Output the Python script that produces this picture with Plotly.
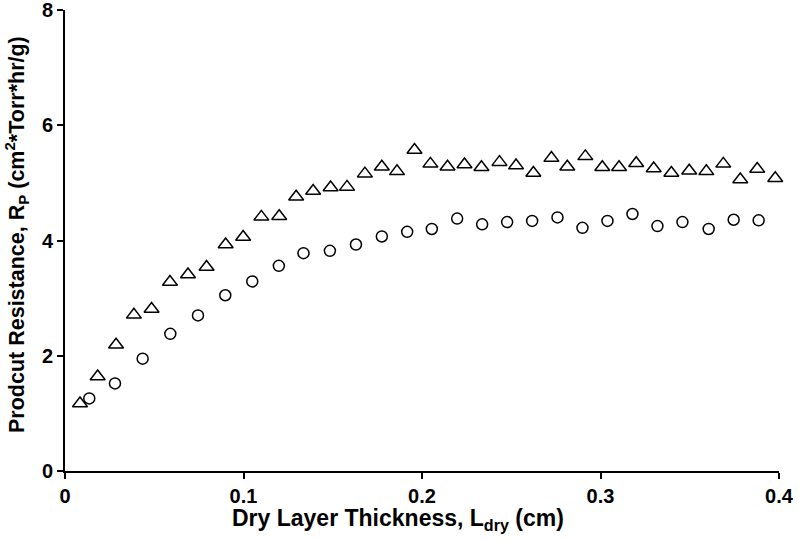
import plotly.graph_objects as go

tri_x = [0.0084, 0.0183, 0.0286, 0.0386, 0.0485, 0.0588, 0.0689, 0.0793, 0.090, 0.0998,
         0.110, 0.120, 0.1295, 0.139, 0.1488, 0.158, 0.168, 0.1775, 0.186, 0.1958,
         0.2047, 0.2143, 0.2238, 0.2333, 0.2434, 0.2527, 0.2624, 0.2725, 0.2814, 0.2915,
         0.301, 0.3104, 0.320, 0.3298, 0.3397, 0.3497, 0.3593, 0.3688, 0.3783, 0.3878, 0.3979]
tri_y = [1.17, 1.64, 2.19, 2.71, 2.81, 3.28, 3.41, 3.54, 3.93, 4.06,
         4.41, 4.42, 4.76, 4.86, 4.92, 4.93, 5.16, 5.28, 5.20, 5.57,
         5.33, 5.28, 5.32, 5.27, 5.36, 5.30, 5.17, 5.43, 5.28, 5.46,
         5.27, 5.27, 5.34, 5.25, 5.17, 5.21, 5.20, 5.33, 5.06, 5.24, 5.08]

circ_x = [0.0136, 0.028, 0.0435, 0.059, 0.0745, 0.0898, 0.1049, 0.1198, 0.1336, 0.1484,
          0.163, 0.1775, 0.1917, 0.2055, 0.2197, 0.2337, 0.2477, 0.2617, 0.2759, 0.2899,
          0.3039, 0.3179, 0.3319, 0.3459, 0.3606, 0.3746, 0.3886]
circ_y = [1.26, 1.52, 1.95, 2.38, 2.70, 3.05, 3.29, 3.56, 3.78, 3.82,
          3.93, 4.07, 4.15, 4.20, 4.38, 4.28, 4.32, 4.34, 4.40, 4.22,
          4.34, 4.46, 4.25, 4.32, 4.20, 4.36, 4.35]

x_ticks = [0, 0.1, 0.2, 0.3, 0.4]
x_tick_labels = ["0", "0.1", "0.2", "0.3", "0.4"]
y_ticks = [0, 2, 4, 6, 8]
y_tick_labels = ["0", "2", "4", "6", "8"]

x_title = "<b>Dry Layer Thickness, L<sub>dry</sub> (cm)</b>"
y_title = "<b>Prodcut Resistance, R<sub>P</sub> (cm<sup>2</sup>*Torr*hr/g)</b>"

fig = go.Figure()
fig.add_trace(go.Scatter(x=tri_x, y=tri_y, mode="markers",
                         marker=dict(symbol="triangle-up-open", size=13, color="black",
                                     line=dict(width=1.5, color="black")),
                         showlegend=False, cliponaxis=False))
fig.add_trace(go.Scatter(x=circ_x, y=circ_y, mode="markers",
                         marker=dict(symbol="circle-open", size=11, color="black",
                                     line=dict(width=1.5, color="black")),
                         showlegend=False, cliponaxis=False))

font_family = "Liberation Sans, Arial, sans-serif"
fig.update_layout(
    width=799, height=541,
    margin=dict(l=65, r=20, t=10, b=70, autoexpand=False),
    paper_bgcolor="white", plot_bgcolor="white",
    font=dict(family=font_family, color="black"),
    xaxis=dict(range=[0, 0.4], tickvals=x_ticks, ticktext=["<b>%s</b>" % t for t in x_tick_labels],
               showgrid=False, zeroline=False, showline=True, linecolor="black", linewidth=2,
               ticks="outside", ticklen=6, tickwidth=2, tickcolor="black",
               tickfont=dict(size=20, family=font_family), automargin=False,
               ticklabeloverflow="allow"),
    yaxis=dict(range=[0, 8], tickvals=y_ticks, ticktext=["<b>%s</b>" % t for t in y_tick_labels],
               showgrid=False, zeroline=False, showline=True, linecolor="black", linewidth=2,
               ticks="outside", ticklen=6, tickwidth=2, tickcolor="black",
               tickfont=dict(size=20, family=font_family), automargin=False,
               ticklabeloverflow="allow"),
    annotations=[
        dict(text=x_title, xref="paper", yref="paper", x=0.4657, y=-0.106,
             xanchor="center", yanchor="middle", showarrow=False,
             font=dict(size=23, family=font_family, color="black")),
        dict(text=y_title, xref="paper", yref="paper", x=-0.0672, y=0.512,
             xanchor="center", yanchor="middle", showarrow=False, textangle=-90,
             font=dict(size=21.5, family=font_family, color="black")),
    ],
)

fig.write_html("out.html", config={"displayModeBar": False},
               post_script="document.body.style.margin='0';")
